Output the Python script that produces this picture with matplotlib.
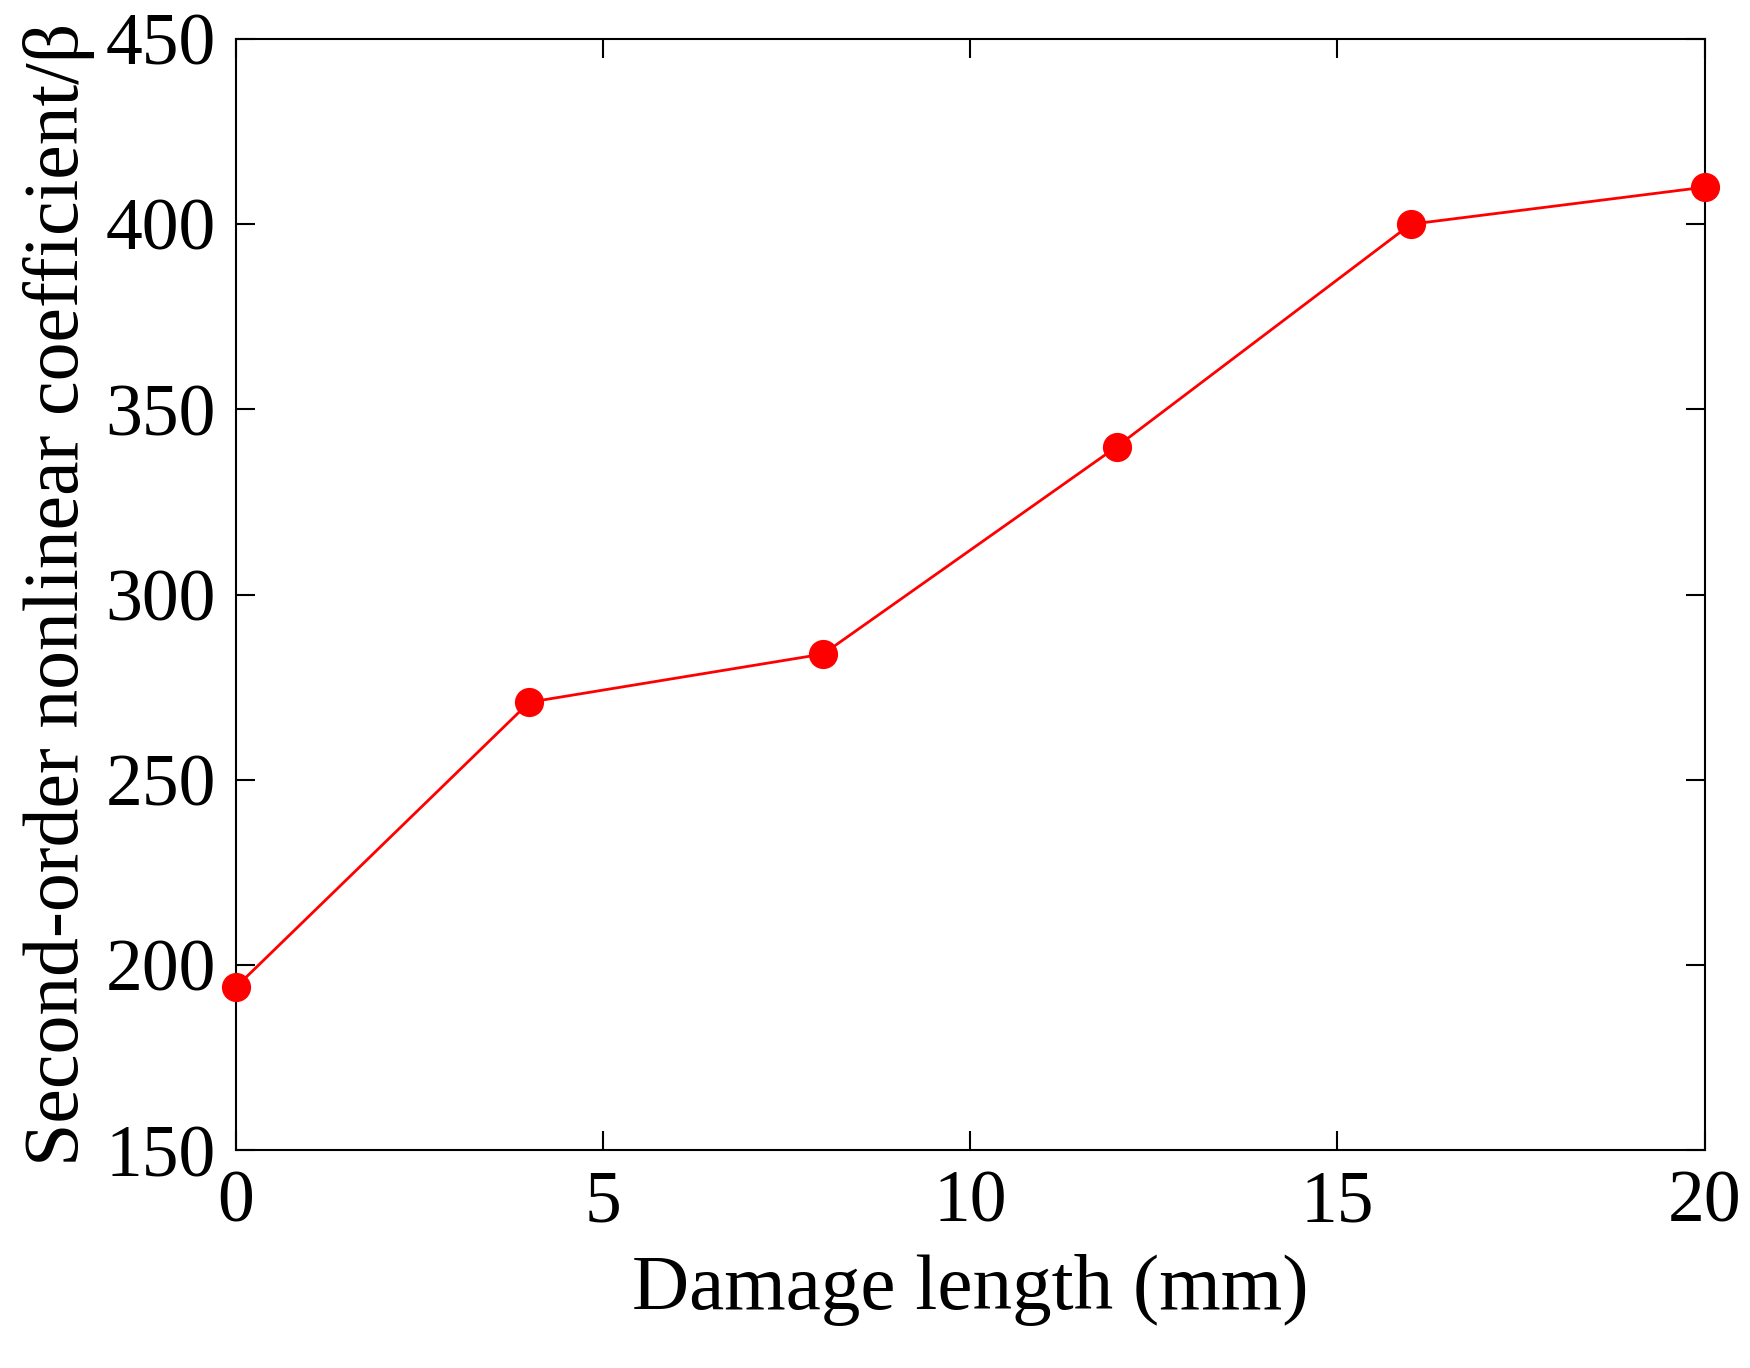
import matplotlib
matplotlib.use("Agg")
import matplotlib.pyplot as plt

damage_length = [0, 4, 8, 12, 16, 20]
beta = [194, 271, 284, 340, 400, 410]
x_ticks = [0, 5, 10, 15, 20]
y_ticks = [150, 200, 250, 300, 350, 400, 450]

plt.rcParams['font.family'] = ['Liberation Serif', 'DejaVu Serif']
fig = plt.figure(figsize=(17.5, 13.68), dpi=100)
ax = fig.add_axes([0.1346, 0.159, 0.8394, 0.8125])
ax.plot(damage_length, beta, color='red', lw=2, marker='o', ms=20, clip_on=False, zorder=5)
ax.set_xlim(0, 20)
ax.set_ylim(150, 450)
ax.set_xticks(x_ticks)
ax.set_yticks(y_ticks)
ax.tick_params(direction='in', length=14, width=1.5, labelsize=53, top=True, right=True, pad=14)
for s in ax.spines.values():
    s.set_linewidth(1.5)
ax.set_xlabel('Damage length (mm)', fontsize=57, labelpad=12)
ax.set_ylabel('Second-order nonlinear coefficient/β', fontsize=56, labelpad=8)
fig.savefig('out.png')
